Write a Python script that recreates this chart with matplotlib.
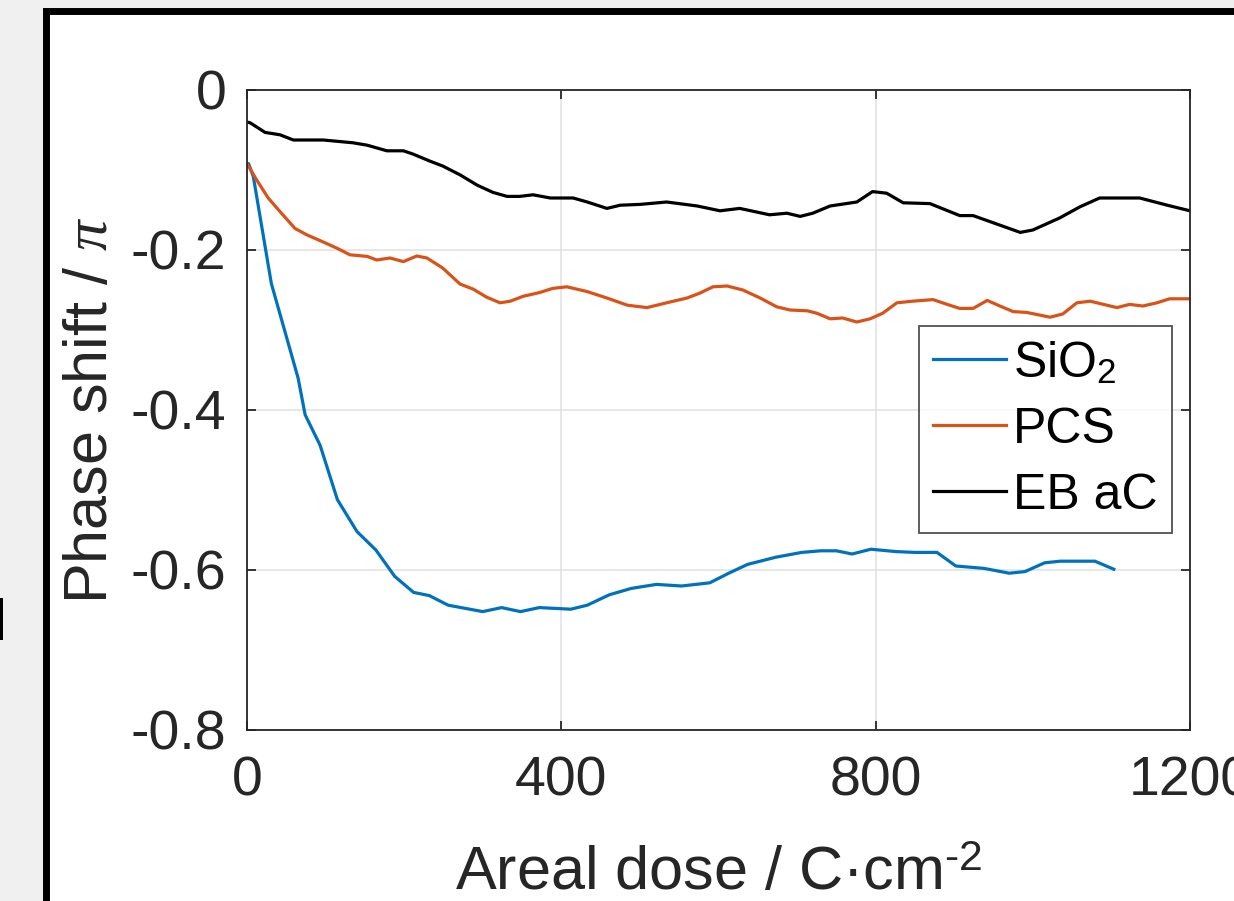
import matplotlib
matplotlib.use("Agg")
import matplotlib.pyplot as plt
from matplotlib.patches import Rectangle

plt.rcParams['font.family'] = ['Liberation Sans', 'DejaVu Sans']
plt.rcParams['mathtext.fontset'] = 'custom'
plt.rcParams['mathtext.rm'] = 'Liberation Sans'
plt.rcParams['mathtext.it'] = 'Liberation Serif:italic'
plt.rcParams['axes.unicode_minus'] = False

# ---- data ----
sio2_x = [0, 2, 8, 31, 65, 74, 93, 115, 140, 164, 188, 212, 232, 256, 300, 324, 348, 372, 412,
          433, 461, 489, 521, 553, 589, 613, 637, 673, 706, 730, 750, 770, 794, 826, 850,
          878, 902, 938, 970, 990, 1015, 1035, 1079, 1103]
sio2_y = [-0.092, -0.092, -0.108, -0.242, -0.360, -0.406, -0.444, -0.512, -0.552, -0.575, -0.608,
          -0.628, -0.632, -0.644, -0.652, -0.647, -0.652, -0.647, -0.649, -0.644, -0.631,
          -0.623, -0.618, -0.620, -0.616, -0.604, -0.593, -0.584, -0.578, -0.576, -0.576,
          -0.580, -0.574, -0.577, -0.578, -0.578, -0.595, -0.598, -0.604, -0.602, -0.591,
          -0.589, -0.589, -0.599]

pcs_x = [0, 12, 27, 42, 61, 76, 97, 115, 131, 153, 165, 182, 199, 216, 229, 249, 271, 288,
         305, 322, 335, 351, 373, 389, 407, 433, 458, 484, 509, 534, 560, 576, 593, 611,
         631, 653, 674, 691, 713, 725, 742, 758, 776, 793, 809, 827, 847, 873, 891, 907,
         924, 942, 958, 975, 992, 1022, 1038, 1056, 1073, 1107, 1123, 1140, 1158, 1174, 1200]
pcs_y = [-0.092, -0.112, -0.135, -0.152, -0.173, -0.181, -0.190, -0.198, -0.206, -0.208,
         -0.2125, -0.210, -0.2145, -0.2075, -0.210, -0.2225, -0.2425, -0.249, -0.259,
         -0.266, -0.264, -0.258, -0.253, -0.248, -0.246, -0.252, -0.260, -0.269, -0.272,
         -0.266, -0.260, -0.254, -0.246, -0.245, -0.250, -0.260, -0.271, -0.275, -0.276,
         -0.279, -0.286, -0.285, -0.290, -0.286, -0.279, -0.266, -0.264, -0.262, -0.268,
         -0.273, -0.273, -0.263, -0.270, -0.277, -0.278, -0.284, -0.280, -0.266, -0.264,
         -0.272, -0.268, -0.270, -0.266, -0.261, -0.261]

ebac_x = [0, 4, 23, 42, 59, 97, 135, 153, 178, 199, 211, 233, 249, 271, 293, 313, 331, 347,
          364, 386, 415, 433, 458, 475, 500, 534, 573, 602, 627, 665, 687, 704, 720, 742,
          776, 796, 814, 835, 869, 907, 924, 984, 1000, 1034, 1060, 1085, 1136, 1171, 1200]
ebac_y = [-0.040, -0.041, -0.053, -0.056, -0.0625, -0.0625, -0.066, -0.069, -0.076, -0.076,
          -0.080, -0.089, -0.095, -0.106, -0.119, -0.128, -0.133, -0.133, -0.131, -0.135,
          -0.135, -0.140, -0.148, -0.144, -0.143, -0.140, -0.145, -0.151, -0.148, -0.156,
          -0.154, -0.158, -0.154, -0.145, -0.140, -0.127, -0.129, -0.141, -0.142, -0.157,
          -0.157, -0.178, -0.175, -0.160, -0.146, -0.135, -0.135, -0.144, -0.151]

labels = ["SiO$_2$", "PCS", "EB aC"]
colors = ["#0072BD", "#D95319", "#000000"]
xticks = [0, 400, 800, 1200]
xticklabels = ["0", "400", "800", "1200"]
yticks = [0, -0.2, -0.4, -0.6, -0.8]
yticklabels = ["0", "-0.2", "-0.4", "-0.6", "-0.8"]

W, H = 1234, 901
fig = plt.figure(figsize=(W / 100, H / 100), dpi=100)
fig.patch.set_facecolor("#f0f0f0")

# white panel with thick black border
fig.add_artist(Rectangle((46 / W, -0.2), 1.5, (1 - 11 / H) + 0.2, transform=fig.transFigure,
                         facecolor="white", edgecolor="black", linewidth=5.0, zorder=0))
fig.add_artist(Rectangle((0, 1 - 640 / H), 3 / W, 42 / H, transform=fig.transFigure,
                         facecolor="black", edgecolor="none", zorder=0))

ax = fig.add_axes([247 / W, 1 - 730 / H, 943 / W, 640 / H])
ax.set_facecolor("white")

for xs, ys, c, lab in zip([sio2_x, pcs_x, ebac_x], [sio2_y, pcs_y, ebac_y], colors, labels):
    ax.plot(xs, ys, color=c, lw=2.3, label=lab, solid_joinstyle='round')

ax.set_xlim(0, 1200)
ax.set_ylim(-0.8, 0)
ax.set_xticks(xticks)
ax.set_xticklabels(xticklabels)
ax.set_yticks(yticks)
ax.set_yticklabels(yticklabels)
ax.grid(True, color="#e0e0e0", lw=1.1)
ax.set_axisbelow(True)
for s in ax.spines.values():
    s.set_color("#262626")
    s.set_linewidth(1.3)
ax.tick_params(direction='in', length=6.5, width=1.3, color="#262626", labelsize=40,
               labelcolor="#262626", top=True, right=True)
ax.tick_params(axis='x', pad=18)
ax.tick_params(axis='y', pad=15)

ax.set_ylabel(r"Phase shift / $\pi$", fontsize=44, color="#262626")
ax.yaxis.set_label_coords(-0.1347, 0.5)
ax.set_xlabel(r"Areal dose / C·cm$^{\text{-}2}$", fontsize=44, color="#262626")
ax.xaxis.set_label_coords(0.5, -0.181)

leg = ax.legend(loc='upper left', bbox_to_anchor=(919 / W, 1 - 326 / H), bbox_transform=fig.transFigure,
                fontsize=36, frameon=True, fancybox=False, handlelength=1.46, handletextpad=0.14,
                borderpad=0.28, labelspacing=0.4, borderaxespad=0)
leg.get_frame().set_edgecolor("#262626")
leg.get_frame().set_linewidth(1.3)
for t in leg.get_texts():
    t.set_color("#000000")

fig.savefig("out.png", dpi=100, facecolor=fig.get_facecolor())
